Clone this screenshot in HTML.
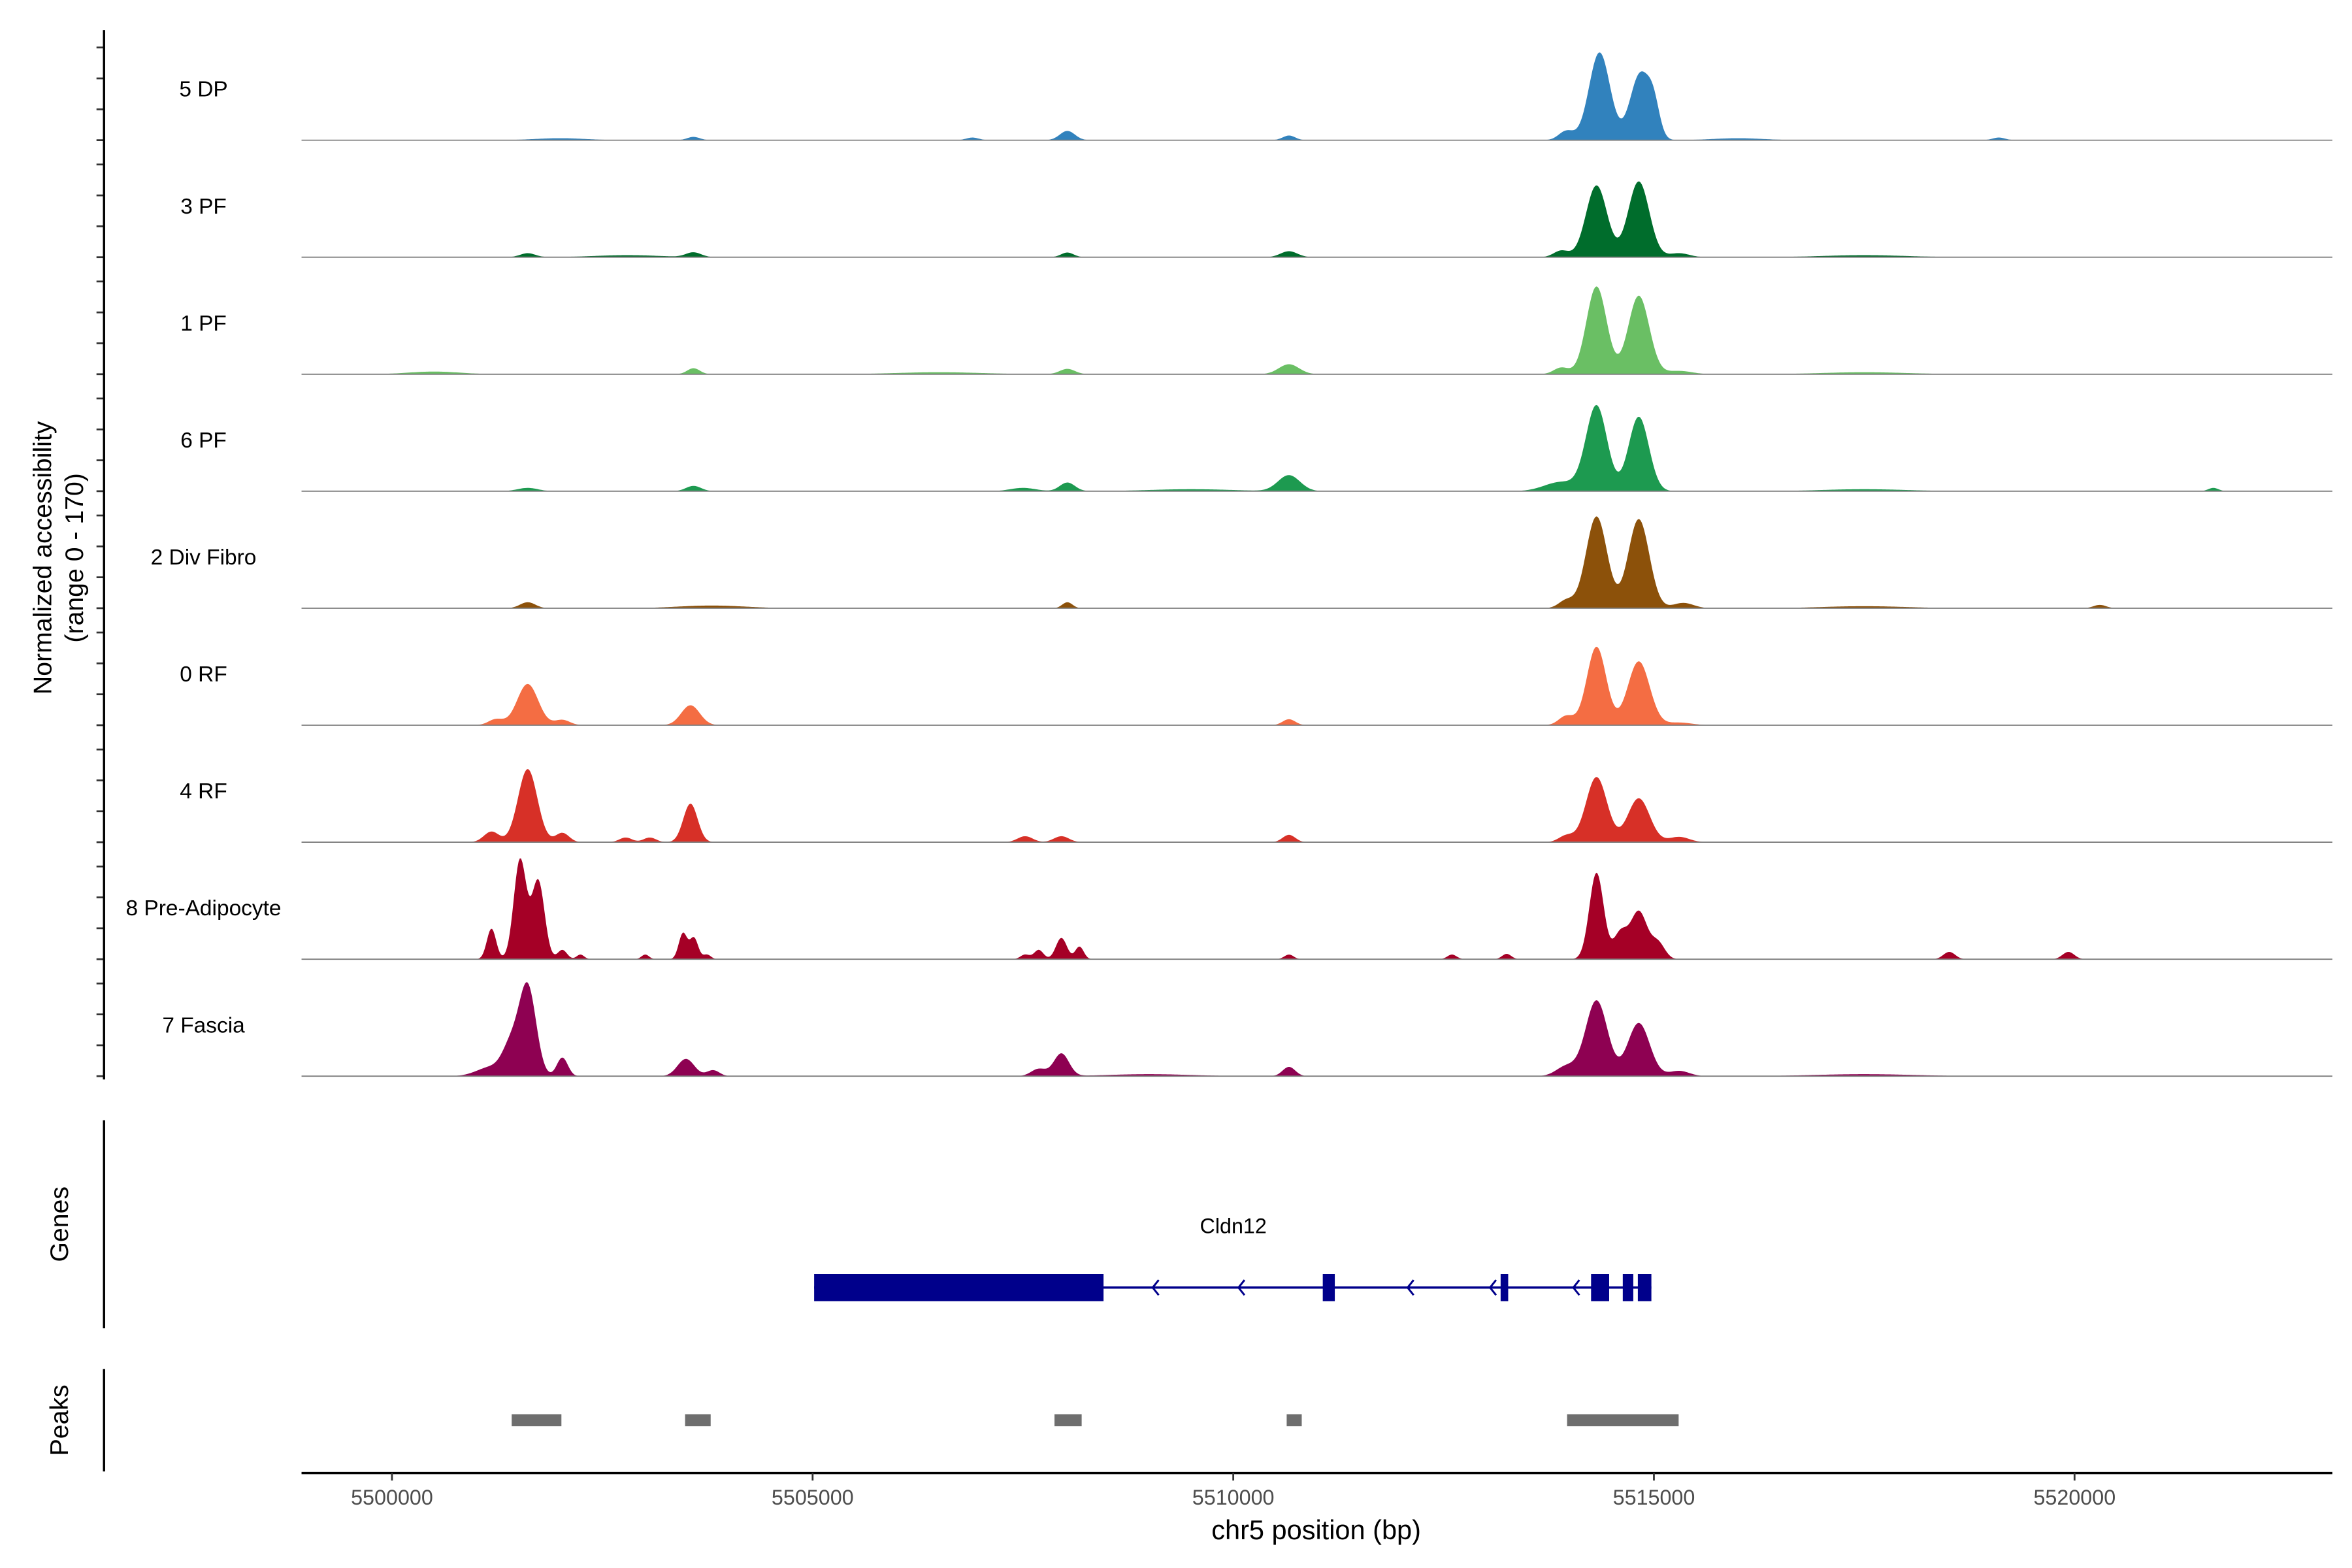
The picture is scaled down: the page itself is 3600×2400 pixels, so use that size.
<!DOCTYPE html>
<html><head><meta charset="utf-8"><style>
html,body{margin:0;padding:0;background:#fff}
svg{display:block}
text{font-family:"Liberation Sans",sans-serif}
</style></head><body>
<svg id="chart" xmlns="http://www.w3.org/2000/svg" width="3600" height="2400" viewBox="0 0 1560 1040">
<rect x="0" y="0" width="1560" height="1040" fill="#fff"/>
<g id="tracks"></g>
<g id="yaxis"></g>
<text transform="translate(34,370) rotate(-90)" text-anchor="middle" font-size="17" fill="#000">Normalized accessibility</text>
<text transform="translate(55,370) rotate(-90)" text-anchor="middle" font-size="17" fill="#000">(range 0 - 170)</text>
<line x1="69" y1="743" x2="69" y2="881" stroke="#000" stroke-width="1.5"/>
<text transform="translate(45,812) rotate(-90)" text-anchor="middle" font-size="17">Genes</text>
<line x1="69" y1="908" x2="69" y2="976" stroke="#000" stroke-width="1.5"/>
<text transform="translate(45,942) rotate(-90)" text-anchor="middle" font-size="17">Peaks</text>
<g id="genes"></g>
<g id="peaks"></g>
<g id="xaxis"></g>
<text x="873" y="1021" text-anchor="middle" font-size="18">chr5 position (bp)</text>
</svg>
<script>
const trackNames = ["5 DP","3 PF","1 PF","6 PF","2 Div Fibro","0 RF","4 RF","8 Pre-Adipocyte","7 Fascia"];
const trackColors = ["#3182bd","#006d2c","#6abf64","#1d9a50","#8c510a","#f46d43","#d73027","#a50026","#8e0152"];
// peaks: [center bp, value (0-170), width bp]
const peaks5DP = [[5513960,14,90],[5514354,132,125],[5514838,100,120],[5515000,38,70],[5508028,14,90],[5510662,7,75],[5503584,5,75],[5506900,4,75],[5519100,4,75],[5502000,3,300],[5516000,3,300]];
const peaks3PF = [[5514318,108,125],[5514820,114,125],[5513900,10,90],[5510662,9,100],[5508028,7,75],[5503584,7,90],[5501613,6,90],[5515300,6,120],[5502800,3,400],[5517500,3,500]];
const peaks1PF = [[5514318,132,120],[5514820,118,125],[5513900,10,90],[5510662,15,120],[5503584,9,75],[5508028,8,90],[5500500,4,300],[5515300,5,150],[5506500,3,500],[5517500,3,500]];
const peaks6PF = [[5514318,128,125],[5514820,112,120],[5513900,14,200],[5510662,24,130],[5508028,13,90],[5503584,8,90],[5501613,5,120],[5507500,5,150],[5521650,5,60],[5509500,3,500],[5517500,3,500]];
const peaks2Div = [[5514318,138,125],[5514820,134,125],[5513960,12,90],[5501613,9,90],[5508028,9,60],[5503800,4,400],[5515350,8,120],[5520300,5,75],[5517500,3,500]];
const peaks0RF = [[5514318,118,115],[5514820,96,130],[5513960,14,90],[5501613,62,125],[5501237,9,90],[5502025,8,90],[5503548,30,110],[5510662,9,75],[5515300,4,150]];
const peaks4RF = [[5514318,98,125],[5514820,66,130],[5513960,10,90],[5501613,110,115],[5501183,16,90],[5502025,14,80],[5503548,58,85],[5502778,7,75],[5503064,7,75],[5507526,9,90],[5507957,9,90],[5510662,11,75],[5515300,8,120]];
const peaks8PA = [[5514318,130,85],[5514820,72,100],[5514600,38,80],[5515050,24,80],[5501523,150,75],[5501738,118,75],[5501183,46,55],[5502025,14,55],[5502240,7,45],[5503011,7,45],[5503459,39,50],[5503590,32,50],[5503745,7,45],[5507526,7,55],[5507688,14,55],[5507957,32,65],[5508172,19,50],[5518511,11,70],[5519927,11,70],[5510662,7,55],[5512600,7,55],[5513250,8,55]];
const peaks7Fa = [[5514318,114,130],[5514820,80,130],[5513960,15,120],[5501613,134,100],[5501416,43,100],[5501183,14,170],[5502025,28,65],[5503494,26,100],[5503817,9,75],[5507688,11,90],[5507957,34,90],[5510662,14,75],[5515300,8,120],[5509000,3,500],[5517500,3,600]];
const trackPeaks = [peaks5DP,peaks3PF,peaks1PF,peaks6PF,peaks2Div,peaks0RF,peaks4RF,peaks8PA,peaks7Fa];
const xTicks = [5500000,5505000,5510000,5515000,5520000];
const xTickLabels = ["5500000","5505000","5510000","5515000","5520000"];
const peakRegions = [[5501423,5502014],[5503484,5503788],[5507875,5508198],[5510635,5510814],[5513968,5515294]];
const geneExons = [[5505018,5508458],[5511064,5511207],[5513178,5513268],[5514253,5514468],[5514630,5514755],[5514809,5514970]];
const geneArrows = [5509060,5510080,5512090,5513070,5514060];
const geneName = "Cldn12";

const NS = "http://www.w3.org/2000/svg";
const X0 = 200, X1 = 1547, BP0 = 5498925, BP1 = 5523065;
function xs(bp){ return X0 + (bp-BP0)/(BP1-BP0)*(X1-X0); }
const TRACK_H = 77.6, FIRST_BASE = 93, VMAX = 170, PXMAX = 75;
function ys(v, base){ return base - Math.min(v,VMAX)/VMAX*PXMAX; }
function mk(tag, attrs, parent){ const e=document.createElementNS(NS,tag); for(const k in attrs) e.setAttribute(k,attrs[k]); parent.appendChild(e); return e; }

const gT = document.getElementById('tracks');
const gY = document.getElementById('yaxis');
trackNames.forEach((name,i)=>{
  const base = FIRST_BASE + i*TRACK_H;
  const pk = trackPeaks[i];
  let d = "M"+X0+","+base;
  for(let bp=BP0; bp<=BP1; bp+=15){
    let v=0; for(const p of pk){ const dd=(bp-p[0])/p[2]; if(Math.abs(dd)<5) v+=p[1]*Math.exp(-0.5*dd*dd); }
    d += "L"+xs(bp).toFixed(2)+","+ys(v,base).toFixed(2);
  }
  d += "L"+X1+","+base+"Z";
  const path = mk('path',{d:d,fill:trackColors[i],stroke:'none'},gT);
  
  
  const bl = mk('line',{x1:X0,x2:X1,y1:base,y2:base,stroke:'#7f7f7f','stroke-width':0.8},gT);
  
  
  const lab = mk('text',{x:135,y:base-29,'text-anchor':'middle','font-size':14.5,fill:'#000'},gT);
  lab.textContent = name;
  
  
  for(let k=0;k<4;k++){
    const t = mk('line',{x1:64,x2:69,y1:base-k*20.5,y2:base-k*20.5,stroke:'#333','stroke-width':1.2},gY);
    
    
  }
});
const ya = mk('line',{x1:69,x2:69,y1:20,y2:716,stroke:'#000','stroke-width':1.5},gY);



const gG = document.getElementById('genes');
const gl = mk('line',{x1:xs(geneExons[0][0]),x2:xs(geneExons[geneExons.length-1][1]),y1:854,y2:854,stroke:'#00008b','stroke-width':1.5},gG);


geneExons.forEach(e=>{
  const r = mk('rect',{x:xs(e[0]),y:845,width:Math.max(1,xs(e[1])-xs(e[0])),height:18,fill:'#00008b'},gG);
  
  
});
geneArrows.forEach(a=>{
  const x=xs(a);
  const p = mk('path',{d:`M${x+3},849 L${x-1},854 L${x+3},859`,fill:'none',stroke:'#00008b','stroke-width':1.3},gG);
  
  
});
const gn = mk('text',{x:818,y:818,'text-anchor':'middle','font-size':14},gG);
gn.textContent = geneName;



const gP = document.getElementById('peaks');
peakRegions.forEach(p=>{
  const r = mk('rect',{x:xs(p[0]),y:938,width:xs(p[1])-xs(p[0]),height:8,fill:'#6e6e6e'},gP);
  
  
});

const gX = document.getElementById('xaxis');
const xl = mk('line',{x1:X0,x2:X1,y1:977,y2:977,stroke:'#000','stroke-width':1.5},gX);


xTicks.forEach((t,i)=>{
  const x=xs(t);
  const tk = mk('line',{x1:x,x2:x,y1:977,y2:982,stroke:'#333','stroke-width':1.2},gX);
  
  
  const tl = mk('text',{x:x,y:998,'text-anchor':'middle','font-size':14,fill:'#4d4d4d'},gX);
  tl.textContent = xTickLabels[i];
  
  
});
</script>
</body></html>
